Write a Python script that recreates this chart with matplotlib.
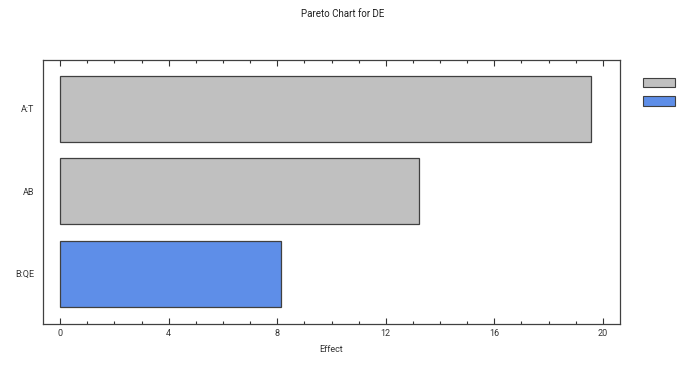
import matplotlib
matplotlib.use('Agg')
import matplotlib.pyplot as plt
from matplotlib.patches import Patch
from matplotlib.ticker import MultipleLocator

plt.rcParams['font.family'] = ['Roboto', 'DejaVu Sans']

# data
factors = ['B:QE', 'AB', 'A:T']
effects = [8.14, 13.22, 19.56]
colors = ['#5e8ee8', '#c0c0c0', '#c0c0c0']

fig = plt.figure(figsize=(6.86, 3.65), dpi=100)
ax = fig.add_axes([0.0627, 0.1123, 0.8411, 0.7233])

ax.barh(range(len(factors)), effects, height=0.8, color=colors,
        edgecolor='#404040', linewidth=0.9)

ax.set_yticks(range(len(factors)))
ax.set_yticklabels(factors, fontsize=6.5, color='#333333')
ax.set_xlim(-0.63, 20.63)
ax.set_ylim(-0.61, 2.59)
ax.xaxis.set_major_locator(MultipleLocator(4))
ax.xaxis.set_minor_locator(MultipleLocator(1))
ax.tick_params(axis='x', which='both', direction='in', top=True,
               labelsize=6.5, colors='#333333', width=0.8)
ax.tick_params(axis='x', which='major', length=4)
ax.tick_params(axis='x', which='minor', length=2)
ax.tick_params(axis='y', length=0, pad=6)
for s in ax.spines.values():
    s.set_color('#404040')
    s.set_linewidth(0.9)

ax.set_xlabel('Effect', fontsize=6.5, color='#333333', labelpad=5)
fig.suptitle('Pareto Chart for DE', fontsize=7, y=0.975, color='#222222')

handles = [Patch(facecolor='#c0c0c0', edgecolor='#404040', linewidth=0.8),
           Patch(facecolor='#5e8ee8', edgecolor='#404040', linewidth=0.8)]
fig.legend(handles, ['', ''], loc='upper left', bbox_to_anchor=(0.925, 0.81),
           frameon=False, handlelength=3.3, handleheight=1.1,
           labelspacing=0.85, fontsize=7, handletextpad=0)

fig.savefig('out.png', dpi=100)
